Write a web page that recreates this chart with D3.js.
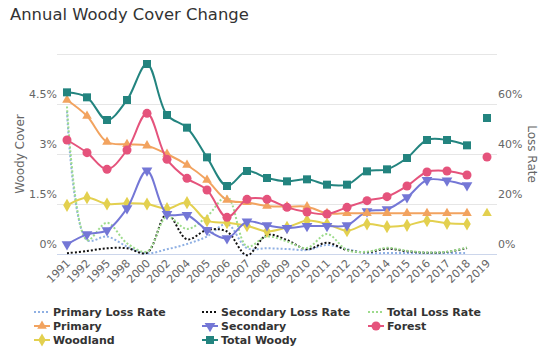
<!DOCTYPE html>
<html>
<head>
<meta charset="utf-8">
<script src="https://cdn.jsdelivr.net/npm/d3@7"></script>
<style>
  body { margin: 0; background: #fff; }
  svg { font-family: "DejaVu Sans", sans-serif; }
</style>
</head>
<body>
<svg id="chart" width="552" height="362"></svg>
<script>
const years = ['1991','1992','1995','1998','2000','2002','2004','2005','2006','2007','2008','2009','2010','2011','2012','2013','2014','2015','2016','2017','2018','2019'];

// cover (%), 1991..2018
const primary   = [4.62,4.14,3.36,3.29,3.25,3.0,2.67,2.22,1.62,1.55,1.44,1.42,1.42,1.22,1.22,1.22,1.22,1.22,1.22,1.22,1.22];
const secondary = [0.29,0.59,0.71,1.37,2.5,1.2,1.17,0.72,0.47,0.97,0.86,0.78,0.84,0.84,0.86,1.28,1.34,1.7,2.22,2.2,2.06];
const forest    = [3.42,3.04,2.54,3.12,4.22,2.84,2.27,1.92,1.1,1.64,1.64,1.4,1.26,1.2,1.4,1.6,1.72,2.04,2.46,2.49,2.37];
const woodland  = [1.46,1.69,1.5,1.52,1.5,1.36,1.54,1.0,0.94,0.85,0.68,0.8,1.0,0.9,0.7,0.9,0.82,0.86,1.0,0.92,0.9];
const totalWoody = [4.85,4.7,4.02,4.62,5.7,4.17,3.79,2.9,2.04,2.49,2.28,2.18,2.24,2.08,2.08,2.48,2.54,2.88,3.42,3.42,3.26];

// 2019 values (shown as single points)
const total2019 = 4.08;
const forest2019 = 2.91;
const woodland2019 = 1.22;

// loss rates (%), 1991..2018
const primaryLoss   = [57,5.6,7,3,0.3,1.9,4,7,12,2.3,2.3,2.0,1.6,3.6,1.9,0.4,0.4,0.4,0.4,0.4,0.4];
const secondaryLoss = [0.3,1.2,2.3,2.3,0.5,16,5.9,9.6,9,-0.5,7.6,5.6,1.9,4.5,1.6,0.7,2.1,1.1,0.5,0.8,2.4];
const totalLoss     = [59,5.6,12.5,4.3,1,15,10,15,23,3,7,5,2.4,8,1.6,0.9,2.5,1.3,0.6,0.9,2.6];

const leftTicks = [0, 1.5, 3, 4.5, 6];
const rightTicks = [0, 20, 40, 60, 80];

const svg = d3.select('#chart');
const plotLeft = 57, plotRight = 497, plotTop = 54, plotBottom = 254;

const x = d3.scalePoint().domain(years).range([plotLeft, plotRight]).padding(0.5);
const yL = d3.scaleLinear().domain([0, 6]).range([plotBottom, plotTop]);
const yR = d3.scaleLinear().domain([0, 80]).range([plotBottom, plotTop]);

// title
svg.append('text').attr('x', 10).attr('y', 20)
    .style('font-size', '16.4px').style('fill', '#333')
    .text('Annual Woody Cover Change');

// grid
svg.append('g').selectAll('line').data(leftTicks).join('line')
    .attr('x1', plotLeft).attr('x2', plotRight)
    .attr('y1', d => yL(d) + 0.5).attr('y2', d => yL(d) + 0.5)
    .attr('stroke', d => d === 0 ? '#ccd6eb' : '#e6e6e6');

// left labels
svg.append('g').selectAll('text').data(leftTicks.slice(0, 4)).join('text')
    .attr('x', plotLeft).attr('y', d => yL(d) - 6)
    .attr('text-anchor', 'end')
    .style('font-size', '11px').style('fill', '#666')
    .text(d => d + '%');

// right labels
svg.append('g').selectAll('text').data(rightTicks.slice(0, 4)).join('text')
    .attr('x', plotRight + 1).attr('y', d => yR(d) - 6)
    .style('font-size', '11px').style('fill', '#666')
    .text(d => d + '%');

svg.append('text')
    .attr('transform', 'translate(24,' + (plotTop + plotBottom) / 2 + ') rotate(-90)')
    .attr('text-anchor', 'middle')
    .style('font-size', '12px').style('fill', '#666')
    .text('Woody Cover');

svg.append('text')
    .attr('transform', 'translate(528,' + (plotTop + plotBottom) / 2 + ') rotate(90)')
    .attr('text-anchor', 'middle')
    .style('font-size', '12px').style('fill', '#666')
    .text('Loss Rate');

// x labels
svg.append('g').selectAll('text').data(years).join('text')
    .attr('transform', d => 'translate(' + (x(d) + 4) + ',' + (plotBottom + 10) + ') rotate(-45)')
    .attr('text-anchor', 'end')
    .style('font-size', '11px').style('fill', '#666')
    .text(d => d);

const curve = d3.curveCatmullRom.alpha(0.5);
const years18 = years.slice(0, 21);

const lossSeries = [
    { name: 'Primary Loss Rate', data: primaryLoss, color: '#8fb0e3' },
    { name: 'Secondary Loss Rate', data: secondaryLoss, color: '#111' },
    { name: 'Total Loss Rate', data: totalLoss, color: '#9ddb8c' },
];

const coverSeries = [
    { name: 'Woodland', data: woodland, color: '#e3d04f', symbol: d3.symbolDiamond, size: 50 },
    { name: 'Secondary', data: secondary, color: '#7477d6', symbol: 'down', size: 50 },
    { name: 'Primary', data: primary, color: '#f2a35f', symbol: d3.symbolTriangle, size: 40 },
    { name: 'Forest', data: forest, color: '#e5537c', symbol: d3.symbolCircle, size: 64 },
    { name: 'Total Woody', data: totalWoody, color: '#23847f', symbol: d3.symbolSquare, size: 64 },
];

lossSeries.forEach(s => {
    const line = d3.line().x((d, i) => x(years18[i])).y(d => yR(d)).curve(curve);
    svg.append('path').datum(s.data)
        .attr('d', line).attr('fill', 'none')
        .attr('stroke', s.color).attr('stroke-width', 2)
        .attr('stroke-dasharray', '2,2');
});

function symbolPath(s) {
    if (s.symbol === 'down') return d3.symbol(d3.symbolTriangle, s.size)();
    return d3.symbol(s.symbol, s.size)();
}
function symbolRot(s) { return s.symbol === 'down' ? ' rotate(180)' : ''; }

coverSeries.forEach(s => {
    const line = d3.line().x((d, i) => x(years18[i])).y(d => yL(d)).curve(curve);
    svg.append('path').datum(s.data)
        .attr('d', line).attr('fill', 'none')
        .attr('stroke', s.color).attr('stroke-width', 2);
    svg.append('g').selectAll('path').data(s.data).join('path')
        .attr('d', symbolPath(s))
        .attr('transform', (d, i) => 'translate(' + x(years18[i]) + ',' + yL(d) + ')' + symbolRot(s))
        .attr('fill', s.color);
});

// single 2019 points
const pts2019 = [
    { v: total2019, s: coverSeries[4] },
    { v: forest2019, s: coverSeries[3] },
    { v: woodland2019, s: { color: '#e3d04f', symbol: d3.symbolTriangle, size: 40 } },
];
svg.append('g').selectAll('path').data(pts2019).join('path')
    .attr('d', d => symbolPath(d.s))
    .attr('transform', d => 'translate(' + x('2019') + ',' + yL(d.v) + ')')
    .attr('fill', d => d.s.color);

// legend
const legendItems = [
    lossSeries[0], lossSeries[1], lossSeries[2],
    coverSeries[2], coverSeries[1], coverSeries[3],
    coverSeries[0], coverSeries[4],
];
const colX = [34, 202, 368];
const rowY = [312, 326, 340];
const lg = svg.append('g').selectAll('g').data(legendItems).join('g')
    .attr('transform', (d, i) => 'translate(' + colX[i % 3] + ',' + rowY[Math.floor(i / 3)] + ')');
lg.append('line')
    .attr('x1', 0).attr('x2', 16).attr('y1', 0).attr('y2', 0)
    .attr('stroke', d => d.color).attr('stroke-width', 2)
    .attr('stroke-dasharray', d => d.symbol ? null : '2,2');
lg.filter(d => d.symbol).append('path')
    .attr('d', d => symbolPath(d))
    .attr('transform', d => 'translate(8,0)' + symbolRot(d))
    .attr('fill', d => d.color);
lg.append('text')
    .attr('x', 19).attr('y', 4)
    .style('font-size', '11px').style('font-weight', 'bold').style('fill', '#333')
    .text(d => d.name);
</script>
</body>
</html>
